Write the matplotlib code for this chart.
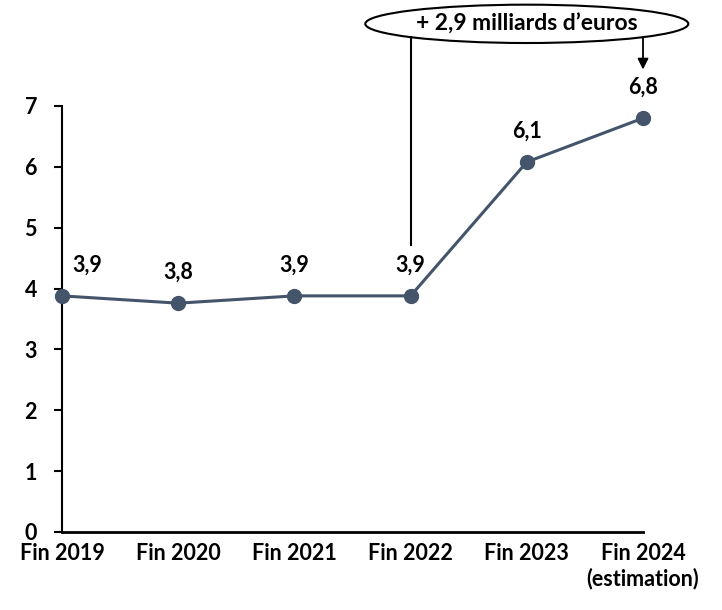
import matplotlib
matplotlib.use("Agg")
import matplotlib.pyplot as plt
import numpy as np
from matplotlib.patches import Ellipse

# data
categories = ["Fin 2019", "Fin 2020", "Fin 2021", "Fin 2022", "Fin 2023", "Fin 2024\n(estimation)"]
values = [3.88, 3.76, 3.88, 3.88, 6.08, 6.8]
value_labels = ["3,9", "3,8", "3,9", "3,9", "6,1", "6,8"]
note = "+ 2,9 milliards d\u2019euros"

plt.rcParams['font.family'] = ['Lato', 'DejaVu Sans']
plt.rcParams['font.weight'] = 'bold'

col = "#44546A"
fs = 15.5
fig = plt.figure(figsize=(7.22, 6.10), dpi=100)
ax = fig.add_axes([62/722, 1-532/610, (643-62)/722, (532-106)/610])

x = list(range(len(categories)))
ax.plot(x, values, color=col, lw=2.2, marker="o", ms=10, clip_on=False, zorder=5)

for i, (v, lab) in enumerate(zip(values, value_labels)):
    dx = 18 if i == 0 else 0
    ax.annotate(lab, (i, v), xytext=(dx, 22), textcoords="offset points",
                ha="center", va="center", fontsize=fs, fontweight="bold")

ax.set_xlim(0, 5)
ax.set_ylim(0, 7)
ax.set_yticks(range(8))
ax.set_xticks(x)
ax.set_xticklabels(categories, fontsize=fs, fontweight="bold")
for t in ax.get_yticklabels():
    t.set_fontsize(fs)
    t.set_fontweight("bold")
ax.tick_params(axis="x", length=0, pad=8)
ax.tick_params(axis="y", length=6, width=1.5, direction="out", pad=12)
for s in ["top", "right"]:
    ax.spines[s].set_visible(False)
ax.spines["left"].set_linewidth(1.5)
ax.spines["bottom"].set_linewidth(2)

# annotation: ellipse, line and arrow
ecx, ecy, ew, eh = 4.0, 8.35, 2.78, 0.63
ell = Ellipse((ecx, ecy), ew, eh, transform=ax.transData, fill=False,
              ec="black", lw=1.5, clip_on=False)
ax.add_patch(ell)
ax.text(ecx, ecy, note, ha="center", va="center", fontsize=16.5, fontweight="bold")

def ell_bottom(xv):
    return ecy - eh / 2 * np.sqrt(1 - ((xv - ecx) / (ew / 2)) ** 2)

ax.plot([3, 3], [4.72, ell_bottom(3)], color="black", lw=1.5, clip_on=False)
ax.annotate("", xy=(5, 7.6), xytext=(5, ell_bottom(5)),
            arrowprops=dict(arrowstyle="-|>", color="black", lw=1.3,
                            mutation_scale=16, shrinkA=0, shrinkB=0),
            annotation_clip=False)

fig.savefig("out.png", dpi=100)
